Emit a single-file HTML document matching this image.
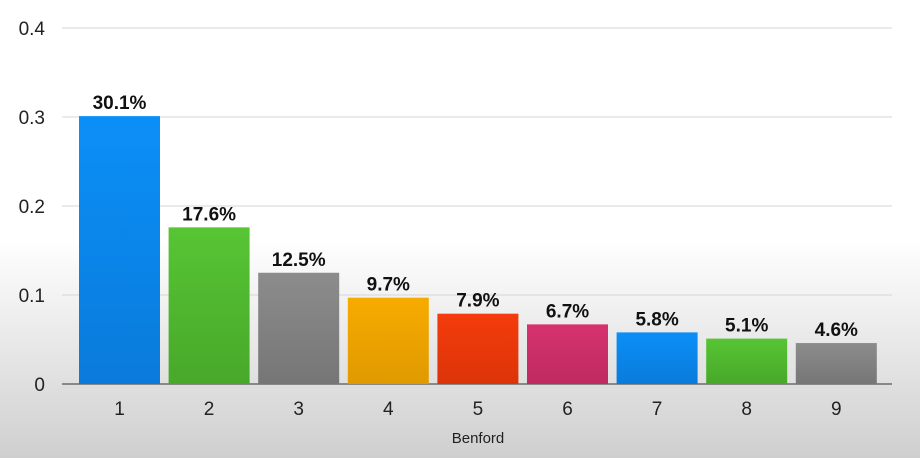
<!DOCTYPE html>
<html><head><meta charset="utf-8"><style>
html,body{margin:0;padding:0}
body{width:920px;height:458px;overflow:hidden;background:linear-gradient(#fff 0px,#fff 240px,#cfcfcf 458px);font-family:"Liberation Sans",sans-serif}
</style></head><body>
<svg id="chart" width="920" height="458" xmlns="http://www.w3.org/2000/svg">
<defs>
<linearGradient id="gb" x1="0" y1="0" x2="0" y2="1"><stop offset="0" stop-color="#0b8ff7"/><stop offset="1" stop-color="#0a7bdb"/></linearGradient>
<linearGradient id="gg" x1="0" y1="0" x2="0" y2="1"><stop offset="0" stop-color="#57c534"/><stop offset="1" stop-color="#48a82a"/></linearGradient>
<linearGradient id="gy" x1="0" y1="0" x2="0" y2="1"><stop offset="0" stop-color="#8c8c8c"/><stop offset="1" stop-color="#767676"/></linearGradient>
<linearGradient id="go" x1="0" y1="0" x2="0" y2="1"><stop offset="0" stop-color="#f7ab00"/><stop offset="1" stop-color="#e09a00"/></linearGradient>
<linearGradient id="gr" x1="0" y1="0" x2="0" y2="1"><stop offset="0" stop-color="#f43c0c"/><stop offset="1" stop-color="#dc3408"/></linearGradient>
<linearGradient id="gp" x1="0" y1="0" x2="0" y2="1"><stop offset="0" stop-color="#d6336e"/><stop offset="1" stop-color="#bf2a5f"/></linearGradient>
</defs>
<g id="grid"></g><g id="bars"></g><g id="labels"></g>
<text x="478" y="443" text-anchor="middle" font-size="15" fill="#222">Benford</text>
</svg>
<script>
const categories=["1","2","3","4","5","6","7","8","9"];
const values=[0.301,0.176,0.125,0.097,0.079,0.067,0.058,0.051,0.046];
const valueLabels=["30.1%","17.6%","12.5%","9.7%","7.9%","6.7%","5.8%","5.1%","4.6%"];
const yTicks=[0,0.1,0.2,0.3,0.4];
const yTickLabels=["0","0.1","0.2","0.3","0.4"];
const fills=["url(#gb)","url(#gg)","url(#gy)","url(#go)","url(#gr)","url(#gp)","url(#gb)","url(#gg)","url(#gy)"];
const NS="http://www.w3.org/2000/svg";
const y0=384,pxPer=890,x0=74.7,step=89.6,bw=81;
const yS=v=>y0-v*pxPer;
const xS=i=>x0+step*i+step/2;
function mk(t,a,p,txt){const e=document.createElementNS(NS,t);for(const k in a)e.setAttribute(k,a[k]);if(txt!=null)e.textContent=txt;document.getElementById(p).appendChild(e);return e;}
yTicks.forEach((t,i)=>{
  const l=mk('line',{x1:62,x2:892,y1:yS(t),y2:yS(t),stroke:t===0?'#555':'#d4d4d4','stroke-width':t===0?1.3:1},'grid');
  
  
  const tx=mk('text',{x:45,y:yS(t)+7,'text-anchor':'end','font-size':19,fill:'#222'},'grid',yTickLabels[i]);
  
  
});
categories.forEach((c,i)=>{
  const r=mk('rect',{x:xS(i)-bw/2,y:yS(values[i]),width:bw,height:y0-yS(values[i]),fill:fills[i]},'bars');
  
  
  const v=mk('text',{x:xS(i),y:yS(values[i])-7,'text-anchor':'middle','font-size':19,'font-weight':'bold',fill:'#111'},'labels',valueLabels[i]);
  
  
  const cl=mk('text',{x:xS(i),y:415,'text-anchor':'middle','font-size':19,fill:'#222'},'labels',c);
  
  
});
</script>
</body></html>
